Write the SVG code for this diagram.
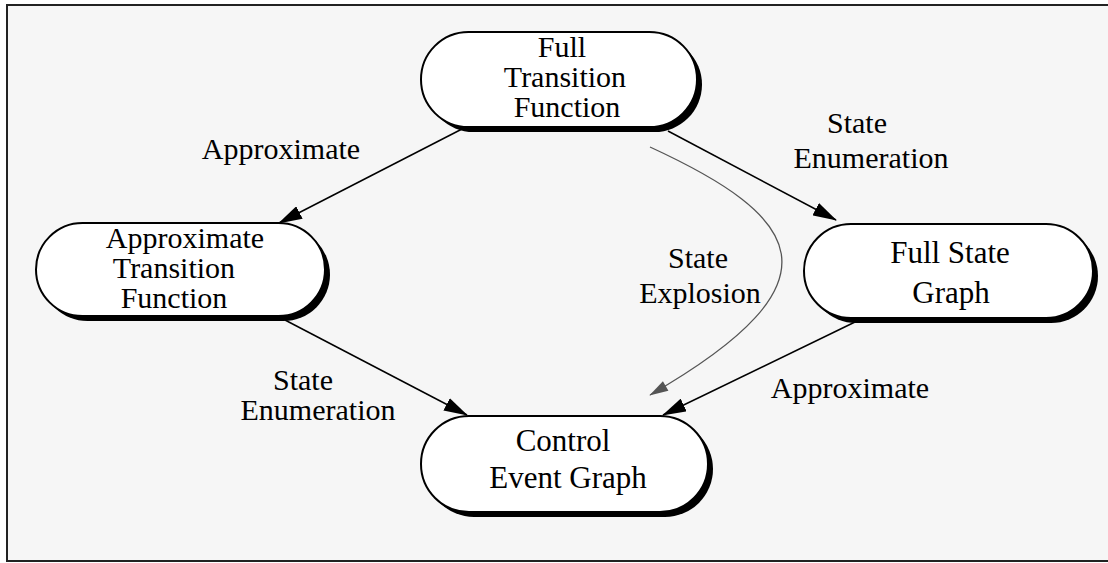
<svg xmlns="http://www.w3.org/2000/svg" width="1108" height="563" viewBox="0 0 1108 563">
<style>
.node{fill:#fff;stroke:#000;stroke-width:2}
.shadow{fill:#000}
.nt{font-family:"Liberation Serif","Times New Roman",serif;font-size:31px;fill:#000;text-anchor:middle}
.nt3{font-family:"Liberation Serif","Times New Roman",serif;font-size:30px;fill:#000;text-anchor:middle}
.lbl{font-family:"Liberation Serif","Times New Roman",serif;font-size:30px;fill:#000;text-anchor:middle}
.edge{stroke:#000;stroke-width:1.5;fill:none;marker-end:url(#ah)}
.gedge{stroke:#555;stroke-width:1.3;fill:none;marker-end:url(#gah)}
</style>
<defs>
<marker id="ah" viewBox="0 0 24 14" refX="23" refY="7" markerWidth="24" markerHeight="14" markerUnits="userSpaceOnUse" orient="auto"><path d="M0,0 L24,7 L0,14 z" fill="#000"/></marker>
<marker id="gah" viewBox="0 0 24 14" refX="23" refY="7" markerWidth="20" markerHeight="11" markerUnits="userSpaceOnUse" orient="auto"><path d="M0,0 L24,7 L0,14 z" fill="#555"/></marker>
</defs>
<rect x="0" y="0" width="1108" height="563" fill="#fff"/>
<rect x="7" y="5" width="1110" height="556" fill="#f6f6f6" stroke="#222" stroke-width="2"/>
<g id="connectors">
<line class="edge" x1="462" y1="129" x2="279" y2="223"/>
<line class="edge" x1="668" y1="131" x2="836" y2="220"/>
<line class="edge" x1="285" y1="320" x2="467" y2="415"/>
<line class="edge" x1="855" y1="322" x2="663" y2="415"/>
<path class="gedge" d="M650,147 C800,216 850,280 650,395"/>
<text class="lbl" x="281" y="159">Approximate</text>
<text class="lbl" x="857" y="133">State</text>
<text class="lbl" x="871" y="168">Enumeration</text>
<text class="lbl" x="698" y="268">State</text>
<text class="lbl" x="700" y="303">Explosion</text>
<text class="lbl" x="303" y="390">State</text>
<text class="lbl" x="318" y="420">Enumeration</text>
<text class="lbl" x="850" y="398">Approximate</text>
</g>
<g id="full-transition-function">
<rect class="shadow" x="426" y="37" width="276" height="95" rx="47.5"/>
<rect class="node" x="421" y="32" width="276" height="95" rx="47.5"/>
<text class="nt3" x="562" y="57">Full</text>
<text class="nt3" x="565" y="87">Transition</text>
<text class="nt3" x="567" y="117">Function</text>
</g>
<g id="approximate-transition-function">
<rect class="shadow" x="41" y="228" width="289" height="93" rx="46.5"/>
<rect class="node" x="36" y="223" width="289" height="93" rx="46.5"/>
<text class="nt3" x="185" y="248">Approximate</text>
<text class="nt3" x="174" y="278">Transition</text>
<text class="nt3" x="174" y="308">Function</text>
</g>
<g id="full-state-graph">
<rect class="shadow" x="809" y="229" width="289" height="94" rx="47"/>
<rect class="node" x="804" y="224" width="289" height="94" rx="47"/>
<text class="nt" x="950" y="263">Full State</text>
<text class="nt" x="951" y="303">Graph</text>
</g>
<g id="control-event-graph">
<rect class="shadow" x="426" y="421" width="287" height="96" rx="48"/>
<rect class="node" x="421" y="416" width="287" height="96" rx="48"/>
<text class="nt" x="563" y="451">Control</text>
<text class="nt" x="568" y="488">Event Graph</text>
</g>
</svg>
